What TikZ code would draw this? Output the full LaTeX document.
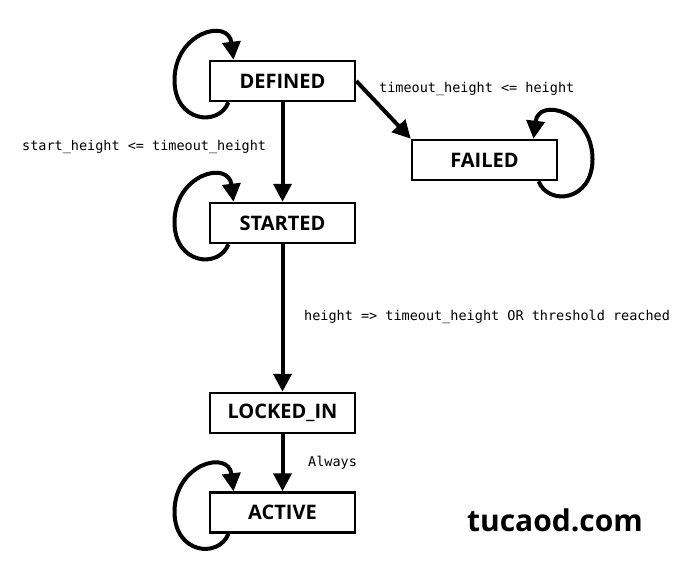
\documentclass[tikz,border=0pt]{standalone}
\usepackage{fontspec}
\setmainfont{Open Sans}
\newfontfamily\monofont{DejaVu Sans Mono}
\usetikzlibrary{arrows.meta}
\begin{document}
\begin{tikzpicture}[x=1pt,y=-1pt,
  state/.style={draw,line width=2.5pt,minimum width=145pt,minimum height=40pt,inner sep=0pt,font=\fontsize{20}{23}\selectfont\bfseries},
  arr/.style={line width=4pt,-{Triangle[length=18pt,width=18pt]}},
  lbl/.style={font=\monofont\fontsize{13.5}{16}\selectfont,inner sep=0pt}]
\useasboundingbox[fill=white] (0,0) rectangle (700,570);
\node[state] (D) at (282.5,81) {DEFINED};
\node[state] (F) at (484.5,160) {FAILED};
\node[state] (S) at (282.5,223) {STARTED};
\node[state] (L) at (282.5,413) {LOCKED\_IN};
\node[state] (A) at (282.5,512.5) {ACTIVE};
% edges
\draw[arr] (D) -- (S);
\draw[arr] (D.east) -- (F.north west);
\draw[arr] (S) -- (L);
\draw[arr] (L) -- (A);
% self loops
\draw[arr] ([xshift=-54pt]D.south) .. controls +(-10,25) and +(0,42) .. ++(-54,-22)
  .. controls +(0,-48) and +(-5,-42) .. ([xshift=-49pt]D.north);
\draw[arr] ([xshift=-54pt]S.south) .. controls +(-10,25) and +(0,42) .. ++(-54,-22)
  .. controls +(0,-48) and +(-5,-42) .. ([xshift=-49pt]S.north);
\draw[arr] ([xshift=-54pt]A.south) .. controls +(-10,25) and +(0,42) .. ++(-54,-22)
  .. controls +(0,-48) and +(-5,-42) .. ([xshift=-49pt]A.north);
\draw[arr] ([xshift=54pt]F.south) .. controls +(10,25) and +(0,42) .. ++(54,-22)
  .. controls +(0,-48) and +(5,-42) .. ([xshift=49pt]F.north);
% labels
\node[lbl,anchor=west] (l1) at (379,89) {timeout\_height <= height};
\node[lbl,anchor=west] (l2) at (22,147) {start\_height <= timeout\_height};
\node[lbl,anchor=west] (l3) at (304,317) {height => timeout\_height OR threshold reached};
\node[lbl,anchor=west] (l4) at (308,463) {Always};
\node[anchor=center,font=\fontsize{30}{34}\selectfont\bfseries] (wm) at (555,520) {tucaod.com};
\end{tikzpicture}
\end{document}
